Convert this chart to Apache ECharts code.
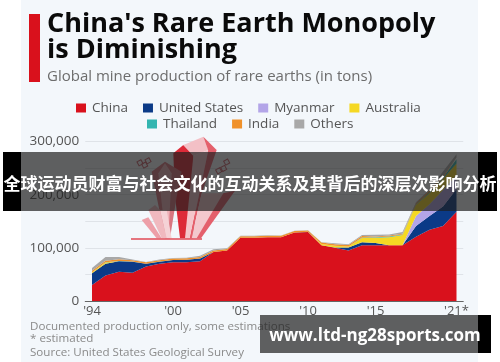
<!DOCTYPE html>
<html><head><meta charset="utf-8">
<script src="https://cdn.jsdelivr.net/npm/echarts@6/dist/echarts.min.js"></script>
<style>html,body{margin:0;padding:0;background:#fff}#c{width:500px;height:362px}</style></head>
<body><div id="c"></div>
<script>
const years=[1994,1995,1996,1997,1998,1999,2000,2001,2002,2003,2004,2005,2006,2007,2008,2009,2010,2011,2012,2013,2014,2015,2016,2017,2018,2019,2020,2021];
const china=[30000,48000,55000,53000,65000,70000,73000,73000,75000,92000,95000,119000,119000,120000,120000,129000,130000,105000,100000,95000,105000,105000,105000,105000,121000,134000,141000,168000];
const unitedStates=[22000,22000,20000,21000,5000,4000,4000,4500,5000,0,0,0,0,0,0,0,0,0,800,5500,5400,4100,0,0,20000,26000,37000,43000];
const myanmar=[0,0,0,0,0,0,0,0,0,0,0,0,0,0,0,0,0,0,0,0,0,0,0,0,19000,22000,31000,26000];
const australia=[2000,2500,0,0,0,0,0,0,0,0,0,0,0,0,0,0,0,2200,3200,2000,8000,10000,15000,19000,21000,21000,21000,22000];
const thailand=[200,400,400,400,200,200,100,100,100,100,100,100,100,100,100,100,100,100,100,100,1000,800,1600,1300,1000,1900,2000,8000];
const india=[2500,3000,3000,2500,2500,2500,2700,2700,2700,2900,2700,2700,2700,2700,2700,2700,2800,2800,2900,2900,2900,1700,1500,1500,1800,2900,2900,3000];
const others=[5300,7100,4600,1100,600,1300,1200,1200,2200,2500,1700,1000,900,800,500,400,400,500,1500,1500,2000,3000,2000,3000,2000,2200,9000,6000];
const seriesNames=['China','United States','Myanmar','Australia','Thailand','India','Others'];
const seriesColors=['#d9111c','#0b3a87','#b3a5e8','#f5d824','#33b5b0','#f0912a','#a8a8a8'];
const seriesValues=[china,unitedStates,myanmar,australia,thailand,india,others];
const yTicks=[0,100000,200000,300000];
const xTickLabels={1994:"'94",2000:"'00",2005:"'05",2010:"'10",2015:"'15",2021:"'21*"};
const chart=echarts.init(document.getElementById('c'),null,{renderer:'canvas'});
const F='"Open Sans"';
// decorative crystal illustration, zoom-crop pixels mapped to page pixels
const Z=p=>p.map(a=>[125+a[0]/3,130+a[1]/3]);
const poly=(pts,fill)=>({type:'polygon',z:1,silent:true,shape:{points:Z(pts)},style:{fill}});
const crystal=[
 poly([[145,70],[175,45],[205,75],[215,200],[205,325],[165,325],[150,200]],'#dd2a38'),
 poly([[175,45],[235,20],[250,60],[205,78]],'#f3c0c6'),
 poly([[235,20],[275,60],[250,62]],'#e4606c'),
 poly([[205,78],[250,60],[195,325],[180,325]],'#f4c6cb'),
 poly([[250,60],[275,60],[230,190],[200,325],[195,325]],'#e4606c'),
 poly([[230,190],[318,190],[225,325],[200,325]],'#f3c8cd'),
 poly([[295,190],[330,182],[228,325],[215,325]],'#e4606c'),
 poly([[80,125],[120,95],[170,125],[155,200],[135,325],[120,325],[95,200]],'#d97680'),
 poly([[100,130],[120,100],[140,130],[130,325],[122,325]],'#efb3b9'),
 poly([[70,240],[90,225],[105,240],[125,325],[110,325]],'#f0b9bf'),
 poly([[50,270],[70,262],[110,325],[95,325]],'#ed9fa8'),
 poly([[105,240],[125,325],[140,325],[125,240]],'#f5d2d6'),
 {type:'line',z:1,silent:true,shape:{x1:131,y1:239,x2:202,y2:239},style:{stroke:'#e04a56',lineWidth:1.4}},
 ...[[44,98],[58,105],[68,92],[280,122],[295,115],[304,96]].map(a=>({type:'rect',z:1,silent:true,shape:{x:125+a[0]/3-2,y:130+a[1]/3-2,width:4.5,height:4.5},rotation:0.5,originX:125+a[0]/3,originY:130+a[1]/3,style:{fill:'none',stroke:'#c9606a',lineWidth:1}}))
];
const txt=(x,y,text,fontSize,fill,fontWeight)=>({type:'text',z:5,silent:true,x,y,style:{text,fontFamily:F,fontSize,fill,fontWeight:fontWeight||'normal',textVerticalAlign:'middle'}});
const rect=(x,y,w,h,fill,z)=>({type:'rect',z:z||100,silent:true,shape:{x,y,width:w,height:h},style:{fill}});
const legendBase={icon:'rect',itemWidth:10,itemHeight:9,itemGap:15,textStyle:{fontFamily:F,fontSize:13.5,color:'#555',padding:[0,0,0,1]}};
chart.setOption({
 animation:false,backgroundColor:'#ffffff',
 legend:[
  {...legendBase,left:71,top:96,data:seriesNames.slice(0,4)},
  {...legendBase,left:142,top:112,data:seriesNames.slice(4)}
 ],
 grid:{left:85.25,right:36.75,top:141.6,bottom:61},
 xAxis:{type:'category',boundaryGap:true,data:years.map(String),axisLine:{show:true,lineStyle:{color:'#666',width:1}},axisTick:{show:false},splitLine:{show:false},
  axisLabel:{interval:(i,v)=>v in xTickLabels,margin:4,fontFamily:F,fontSize:13,color:'#555',formatter:v=>xTickLabels[v]||''}},
 yAxis:{type:'value',min:0,max:300000,interval:50000,axisLine:{show:false},axisTick:{show:false},splitLine:{lineStyle:{color:'#dfe3e8',width:1}},
  axisLabel:{margin:6,fontFamily:F,fontSize:13.5,color:'#555',formatter:v=>yTicks.includes(v)?v.toLocaleString('en-US'):''}},
 series:seriesNames.map((n,i)=>({name:n,type:'line',stack:'total',symbol:'none',smooth:false,z:3,
  lineStyle:{width:0},itemStyle:{color:seriesColors[i]},areaStyle:{color:seriesColors[i],opacity:1},
  data:seriesValues[i]})),
 graphic:[
  rect(21,0,457,362,'#f3f7fb',-1),
  rect(29,14,11,68,'#d9111c',5),
  ...crystal,
  txt(47,24,"China's Rare Earth Monopoly",27,'#0a0a0a','bold'),
  txt(47,50,'is Diminishing',27,'#0a0a0a','bold'),
  txt(47,77,'Global mine production of rare earths (in tons)',15,'#6d6d6d'),
  txt(30,327,'Documented production only, some estimations',11.6,'#8a8a8a'),
  txt(30,339,'* estimated',11.6,'#8a8a8a'),
  txt(30,353,'Source: United States Geological Survey',11.6,'#8a8a8a'),
  rect(3,152,18,59,'#000'),rect(478,152,19,59,'#000'),
  rect(21,152,457,59,'rgba(30,30,30,0.7)'),
  rect(478,315,13,38,'#000'),rect(260,315,218,38,'rgba(30,30,30,0.7)'),
  {type:'text',z:101,silent:true,x:250,y:184,style:{text:'全球运动员财富与社会文化的互动关系及其背后的深层次影响分析',fontFamily:'"Noto Sans CJK SC"',fontSize:17,fontWeight:'bold',fill:'#fff',textAlign:'center',textVerticalAlign:'middle'}},
  {type:'text',z:101,silent:true,x:375,y:336,style:{text:'www.ltd-ng28sports.com',fontFamily:F,fontSize:17,fontWeight:'bold',fill:'#fff',textAlign:'center',textVerticalAlign:'middle'}}
 ]
});
</script></body></html>
